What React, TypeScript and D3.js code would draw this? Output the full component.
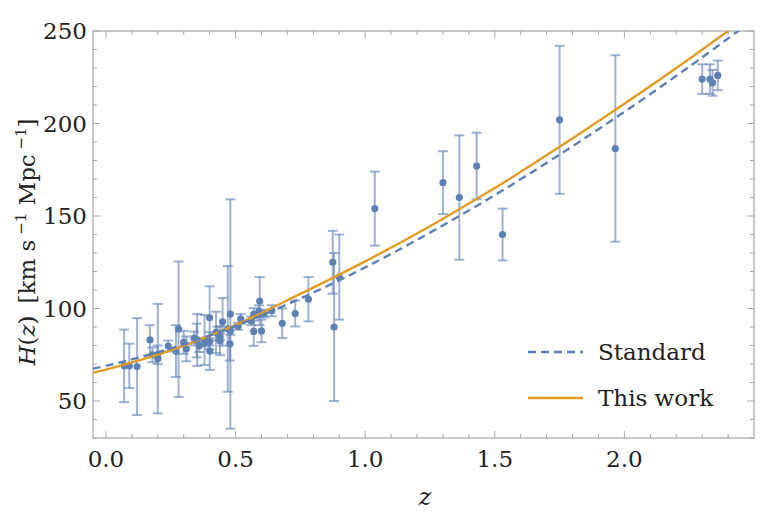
import * as d3 from "d3";

// observational H(z) compilation: redshift, value, 1-sigma error
const obsZ = [
  0.07, 0.09, 0.12, 0.17, 0.179, 0.199, 0.2, 0.24, 0.27, 0.28, 0.3, 0.31, 0.34,
  0.35, 0.352, 0.36, 0.38, 0.3802, 0.4, 0.4, 0.4004, 0.4247, 0.43, 0.44, 0.44,
  0.4497, 0.47, 0.4783, 0.48, 0.48, 0.51, 0.52, 0.56, 0.57, 0.57, 0.59, 0.593,
  0.6, 0.61, 0.64, 0.68, 0.73, 0.781, 0.875, 0.88, 0.9, 1.037, 1.3, 1.363, 1.43,
  1.53, 1.75, 1.965, 2.3, 2.33, 2.34, 2.36,
];
const obsH = [
  69, 69, 68.6, 83, 75, 75, 72.9, 79.7, 77, 88.8, 81.7, 78.2, 83.8, 82.7, 83,
  79.9, 81.5, 83, 95, 82, 77, 87.1, 86.5, 82.6, 84.8, 92.8, 89, 80.9, 97, 87.8,
  90.4, 94.4, 93.3, 87.6, 96.8, 98.5, 104, 87.9, 97.3, 98.8, 92, 97.3, 105, 125,
  90, 117, 154, 168, 160, 177, 140, 202, 186.5, 224, 224, 222, 226,
];
const obsErr = [
  19.6, 12, 26.2, 8, 4, 5, 29.6, 3, 14, 36.6, 6.2, 6.7, 3.7, 9.1, 14, 3.4, 1.9,
  13.5, 17, 2, 10.2, 11.2, 3.7, 7.8, 1.8, 12.9, 34, 9, 62, 2, 1.9, 2.6, 2.3, 7.8,
  3.4, 3.2, 13, 6.1, 2.1, 3, 8, 7, 12, 17, 40, 23, 20, 17, 33.6, 18, 14, 40, 50.4,
  8, 8, 7, 8,
];

// model curves
const curveZ = [-0.05, 0, 0.25, 0.5, 0.75, 1, 1.25, 1.5, 1.75, 2, 2.25, 2.5];
const standardH = [67.5, 69, 78.4, 90.6, 105.4, 122.2, 141, 161.3, 183.2, 206.3, 230.7, 256.3];
const thisWorkH = [65.3, 67, 77.4, 91.1, 107.9, 125.5, 144.5, 165.1, 187.4, 210.7, 234.9, 260.3];

const xTickLabels = ["0.0", "0.5", "1.0", "1.5", "2.0"];
const yTickValues = [50, 100, 150, 200, 250];
const legendLabels = ["Standard", "This work"];

const BLUE = "#5e81b5";
const ORANGE = "#e19c24";
const FRAME = "#a6a6a6";
const FONT = "DejaVu Serif, serif";

export default function App() {
  const left = 93,
    right = 754,
    top = 31,
    bottom = 438;

  const x = d3.scaleLinear().domain([-0.05, 2.5]).range([left, right]);
  const y = d3.scaleLinear().domain([30, 250]).range([bottom, top]);

  const path = (vals: number[]) =>
    d3
      .line<number>()
      .x((_, i) => x(curveZ[i]))
      .y((v) => y(v))
      .curve(d3.curveCatmullRom)(vals) || "";

  const xMinor = d3.range(0, 25).map((i) => i / 10);
  const yMinor = d3.range(3, 26).map((i) => i * 10);
  const xMajor = xTickLabels.map((t) => +t);

  return (
    <svg
      width={778}
      height={529}
      style={{ position: "absolute", left: 0, top: 0, background: "#fff" }}
      fontFamily={FONT}
    >
      <defs>
        <clipPath id="plot">
          <rect x={left} y={top} width={right - left} height={bottom - top} />
        </clipPath>
      </defs>

      {/* frame */}
      <rect
        x={left}
        y={top}
        width={right - left}
        height={bottom - top}
        fill="none"
        stroke={FRAME}
        strokeWidth={1.2}
      />
      {xMinor.map((t) => {
        const major = xMajor.some((m) => Math.abs(m - t) < 1e-6);
        const len = major ? 7 : 4;
        return (
          <g key={"xt" + t} stroke={FRAME} strokeWidth={1}>
            <line x1={x(t)} x2={x(t)} y1={bottom} y2={bottom - len} />
            <line x1={x(t)} x2={x(t)} y1={top} y2={top + len} />
          </g>
        );
      })}
      {yMinor.map((t) => {
        const major = t % 50 === 0;
        const len = major ? 7 : 4;
        return (
          <g key={"yt" + t} stroke={FRAME} strokeWidth={1}>
            <line x1={left} x2={left + len} y1={y(t)} y2={y(t)} />
            <line x1={right} x2={right - len} y1={y(t)} y2={y(t)} />
          </g>
        );
      })}

      {/* tick labels */}
      {xTickLabels.map((t) => (
        <text key={"xl" + t} x={x(+t)} y={467} textAnchor="middle" fontSize={23} fill="#222">
          {t}
        </text>
      ))}
      {yTickValues.map((t) => (
        <text key={"yl" + t} x={87} y={y(t) + 8} textAnchor="end" fontSize={23} fill="#222">
          {t}
        </text>
      ))}

      {/* axis labels */}
      <text x={425} y={505} textAnchor="middle" fontSize={24} fontStyle="italic" fill="#222">
        z
      </text>
      <text
        transform={`translate(35,${242}) rotate(-90)`}
        textAnchor="middle"
        fontSize={23}
        fill="#222"
      >
        <tspan fontStyle="italic">H</tspan>
        <tspan>(</tspan>
        <tspan fontStyle="italic">z</tspan>
        <tspan>)</tspan>
        <tspan dx={12}>[km s</tspan>
        <tspan fontSize={15} dy={-9}> −1</tspan>
        <tspan dy={9}> Mpc</tspan>
        <tspan fontSize={15} dy={-9}> −1</tspan>
        <tspan dy={9}>]</tspan>
      </text>

      <g clipPath="url(#plot)">
        {/* error bars */}
        <g stroke={BLUE} strokeOpacity={0.6} strokeWidth={2}>
          {obsZ.map((z, i) => {
            const cx = x(z);
            const y0 = y(obsH[i] - obsErr[i]);
            const y1 = y(obsH[i] + obsErr[i]);
            return (
              <g key={"e" + i}>
                <line x1={cx} x2={cx} y1={y0} y2={y1} />
                <line x1={cx - 5} x2={cx + 5} y1={y0} y2={y0} />
                <line x1={cx - 5} x2={cx + 5} y1={y1} y2={y1} />
              </g>
            );
          })}
        </g>
        {obsZ.map((z, i) => (
          <circle key={"p" + i} cx={x(z)} cy={y(obsH[i])} r={3.6} fill={BLUE} />
        ))}

        {/* model curves */}
        <path d={path(thisWorkH)} fill="none" stroke={ORANGE} strokeWidth={2.4} />
        <path
          d={path(standardH)}
          fill="none"
          stroke={BLUE}
          strokeWidth={2.4}
          strokeDasharray="8,5"
        />
      </g>

      {/* legend */}
      <line x1={528} x2={583} y1={352} y2={352} stroke={BLUE} strokeWidth={2.4} strokeDasharray="8,5" />
      <line x1={528} x2={583} y1={398} y2={398} stroke={ORANGE} strokeWidth={2.4} />
      {legendLabels.map((l, i) => (
        <text key={l} x={598} y={360 + i * 46} fontSize={23} fill="#222">
          {l}
        </text>
      ))}
    </svg>
  );
}
